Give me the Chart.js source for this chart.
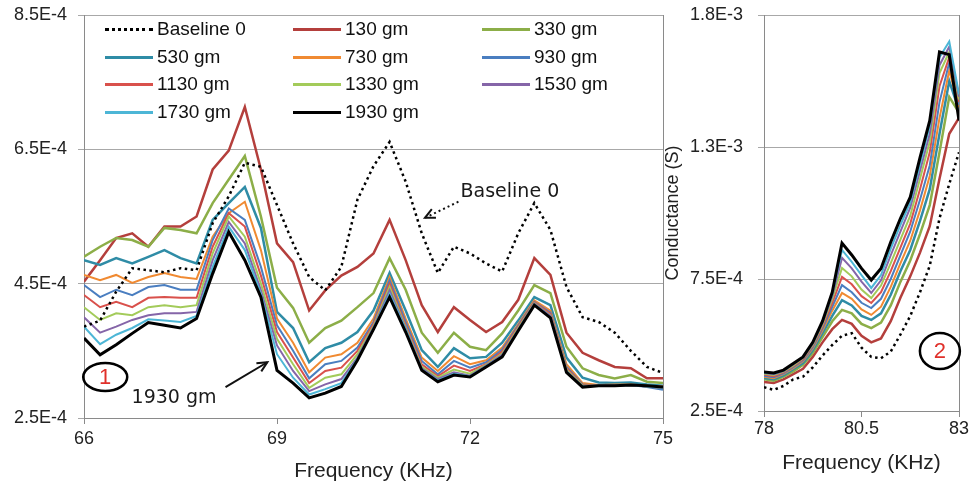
<!DOCTYPE html>
<html>
<head>
<meta charset="utf-8">
<script src="https://cdn.jsdelivr.net/npm/chart.js@4.4.1/dist/chart.umd.min.js"></script>
<style>
  html, body { margin: 0; padding: 0; background: #fff; }
  #wrap { position: relative; width: 974px; height: 485px; overflow: hidden; font-family: "Liberation Sans", Arial, sans-serif; }
  #leftBox { position: absolute; left: 0; top: 0; width: 690px; height: 485px; }
  #rightBox { position: absolute; left: 650px; top: 0; width: 324px; height: 485px; }
  .lg { position: absolute; height: 22px; font-size: 19px; line-height: 22px; color: #111; white-space: nowrap; }
  .lg i { position: absolute; left: 0; top: 10px; width: 48px; border-top: 3px solid #000; }
  .lg span { position: absolute; left: 52px; top: 0; }
</style>
</head>
<body>
<div id="wrap">
  <div id="leftBox"><canvas id="leftChart"></canvas></div>
  <div id="rightBox"><canvas id="rightChart"></canvas></div>
  <div id="legend"></div>
</div>
<script>
// Frequencies (kHz)
const freqLeft = [66, 66.25, 66.5, 66.75, 67, 67.25, 67.5, 67.75, 68, 68.25, 68.5, 68.75, 69, 69.25, 69.5, 69.75, 70, 70.25, 70.5, 70.75,
                  71, 71.25, 71.5, 71.75, 72, 72.25, 72.5, 72.75, 73, 73.25, 73.5, 73.75, 74, 74.25, 74.5, 74.75, 75];
const freqRight = [78, 78.25, 78.5, 78.75, 79, 79.25, 79.5, 79.75, 80, 80.25, 80.5, 80.75, 81, 81.25, 81.5, 81.75, 82, 82.25, 82.5, 82.75, 83];

const seriesNames = ['Baseline 0', '130 gm', '330 gm', '530 gm', '730 gm', '930 gm', '1130 gm', '1330 gm', '1530 gm', '1730 gm', '1930 gm'];

// Conductance, in units of 1E-4 S - panel 1 (66-75 kHz)
const baseLeft  = [3.86, 3.95, 4.38, 4.73, 4.70, 4.67, 4.73, 4.70, 5.40, 5.80, 6.30, 6.24, 5.67, 5.10, 4.60, 4.40, 4.75, 5.75, 6.25, 6.61, 6.02, 5.25, 4.66, 5.05, 4.95, 4.80, 4.68, 5.25, 5.70, 5.30, 4.45, 4.00, 3.93, 3.77, 3.50, 3.26, 3.17];
const g130Left  = [4.53, 4.85, 5.18, 5.25, 5.05, 5.35, 5.35, 5.50, 6.20, 6.48, 7.13, 6.20, 5.10, 4.82, 4.10, 4.40, 4.62, 4.75, 4.95, 5.45, 4.85, 4.18, 3.78, 4.15, 3.96, 3.78, 3.93, 4.26, 4.88, 4.63, 3.77, 3.47, 3.36, 3.26, 3.24, 3.09, 3.09];
const g330Left  = [4.90, 5.05, 5.18, 5.15, 5.05, 5.33, 5.30, 5.25, 5.70, 6.05, 6.40, 5.50, 4.44, 4.14, 3.62, 3.84, 3.95, 4.15, 4.36, 4.88, 4.41, 3.77, 3.47, 3.77, 3.56, 3.51, 3.76, 4.10, 4.48, 4.36, 3.56, 3.24, 3.14, 3.09, 3.14, 3.04, 3.02];
const g530Left  = [4.85, 4.78, 4.88, 4.80, 4.90, 5.00, 4.88, 4.80, 5.45, 5.70, 5.94, 5.33, 4.08, 3.84, 3.33, 3.54, 3.62, 3.78, 4.10, 4.66, 4.10, 3.51, 3.26, 3.54, 3.39, 3.41, 3.62, 3.95, 4.30, 4.18, 3.40, 3.10, 3.03, 3.02, 3.03, 3.00, 2.98];
const g730Left  = [4.63, 4.55, 4.63, 4.51, 4.60, 4.66, 4.60, 4.57, 5.20, 5.55, 5.72, 5.00, 3.98, 3.62, 3.18, 3.40, 3.45, 3.62, 3.98, 4.60, 3.98, 3.40, 3.20, 3.42, 3.30, 3.36, 3.55, 3.90, 4.25, 4.10, 3.30, 3.02, 2.99, 3.00, 3.00, 2.98, 2.97];
const g930Left  = [4.48, 4.30, 4.41, 4.33, 4.45, 4.48, 4.41, 4.41, 5.15, 5.62, 5.45, 4.75, 3.88, 3.50, 3.09, 3.30, 3.35, 3.55, 3.93, 4.55, 3.93, 3.35, 3.15, 3.35, 3.25, 3.33, 3.52, 3.88, 4.23, 4.07, 3.26, 3.00, 2.98, 2.99, 2.99, 2.96, 2.92];
const g1130Left = [4.33, 4.15, 4.23, 4.15, 4.29, 4.30, 4.29, 4.29, 5.05, 5.55, 5.35, 4.62, 3.78, 3.40, 3.02, 3.20, 3.25, 3.50, 3.90, 4.50, 3.88, 3.30, 3.12, 3.28, 3.20, 3.30, 3.49, 3.86, 4.22, 4.05, 3.24, 2.99, 2.98, 2.99, 2.99, 2.97, 2.95];
const g1330Left = [4.15, 3.96, 4.06, 4.03, 4.15, 4.18, 4.15, 4.18, 4.95, 5.50, 5.20, 4.50, 3.68, 3.30, 2.95, 3.10, 3.15, 3.45, 3.87, 4.45, 3.85, 3.26, 3.10, 3.22, 3.16, 3.29, 3.46, 3.84, 4.21, 4.03, 3.22, 2.98, 2.98, 2.98, 2.99, 2.97, 2.95];
const g1530Left = [4.00, 3.77, 3.86, 3.96, 4.03, 4.06, 4.06, 4.08, 4.85, 5.42, 5.10, 4.40, 3.58, 3.20, 2.90, 3.00, 3.08, 3.40, 3.85, 4.40, 3.83, 3.24, 3.08, 3.18, 3.13, 3.28, 3.44, 3.82, 4.20, 4.02, 3.20, 2.97, 2.98, 2.98, 2.99, 2.97, 2.95];
const g1730Left = [3.86, 3.60, 3.74, 3.84, 3.97, 3.95, 3.93, 4.02, 4.75, 5.35, 5.00, 4.35, 3.45, 3.10, 2.85, 2.93, 3.02, 3.38, 3.83, 4.35, 3.82, 3.22, 3.06, 3.16, 3.12, 3.27, 3.42, 3.81, 4.19, 4.00, 3.19, 2.97, 2.98, 2.98, 2.99, 2.97, 2.95];
const g1930Left = [3.69, 3.44, 3.59, 3.76, 3.92, 3.88, 3.84, 3.98, 4.65, 5.27, 4.85, 4.30, 3.21, 3.02, 2.80, 2.87, 2.97, 3.36, 3.82, 4.30, 3.78, 3.21, 3.04, 3.14, 3.11, 3.26, 3.41, 3.80, 4.18, 3.99, 3.18, 2.96, 2.98, 2.98, 2.99, 2.98, 2.96];

// panel 2 (78-83 kHz)
const baseRight  = [3.40, 3.30, 3.45, 3.70, 3.80, 4.15, 4.60, 5.00, 5.35, 5.45, 4.90, 4.55, 4.50, 4.75, 5.40, 6.10, 7.00, 8.00, 9.80, 11.10, 12.30];
const g130Right  = [3.60, 3.56, 3.70, 3.90, 4.10, 4.55, 5.10, 5.60, 5.95, 5.80, 5.35, 5.10, 5.25, 5.90, 6.80, 7.60, 8.50, 9.50, 11.30, 13.00, 13.60];
const g330Right  = [3.70, 3.65, 3.80, 4.00, 4.25, 4.70, 5.30, 5.90, 6.33, 6.20, 5.80, 5.64, 5.85, 6.50, 7.40, 8.20, 9.20, 10.30, 12.30, 14.40, 13.80];
const g530Right  = [3.75, 3.70, 3.85, 4.08, 4.32, 4.80, 5.45, 6.10, 6.70, 6.50, 6.10, 5.95, 6.20, 6.90, 7.80, 8.60, 9.70, 10.90, 13.00, 15.00, 13.90];
const g730Right  = [3.80, 3.74, 3.90, 4.12, 4.38, 4.87, 5.55, 6.30, 6.97, 6.75, 6.35, 6.14, 6.45, 7.20, 8.10, 8.95, 10.10, 11.40, 13.60, 15.40, 14.00];
const g930Right  = [3.84, 3.78, 3.93, 4.16, 4.42, 4.92, 5.62, 6.45, 7.27, 7.00, 6.60, 6.40, 6.75, 7.50, 8.40, 9.30, 10.50, 11.80, 14.20, 15.70, 14.10];
const g1130Right = [3.88, 3.82, 3.96, 4.20, 4.46, 4.97, 5.70, 6.60, 7.58, 7.30, 6.85, 6.59, 7.00, 7.80, 8.70, 9.60, 10.90, 12.30, 14.80, 15.90, 14.20];
const g1330Right = [3.91, 3.86, 3.99, 4.23, 4.50, 5.01, 5.77, 6.75, 7.92, 7.60, 7.10, 6.78, 7.25, 8.10, 9.00, 9.90, 11.30, 12.70, 15.30, 16.10, 14.30];
const g1530Right = [3.94, 3.89, 4.01, 4.26, 4.52, 5.05, 5.83, 6.85, 8.30, 7.90, 7.40, 6.97, 7.45, 8.40, 9.30, 10.20, 11.60, 13.00, 15.60, 16.30, 14.40];
const g1730Right = [3.96, 3.92, 4.03, 4.28, 4.54, 5.08, 5.87, 6.93, 8.60, 8.15, 7.65, 7.16, 7.65, 8.65, 9.55, 10.40, 11.85, 13.30, 15.90, 16.50, 14.50];
const g1930Right = [3.98, 3.94, 4.05, 4.30, 4.55, 5.10, 5.90, 7.00, 8.86, 8.41, 7.90, 7.46, 7.90, 8.90, 9.80, 10.60, 12.10, 13.50, 16.10, 16.00, 13.50];

// Axis ticks (y in 1E-4 S)
const leftXTicks = [66, 69, 72, 75];
const leftXLabels = ['66', '69', '72', '75'];
const leftYTicks = [2.5, 4.5, 6.5, 8.5];
const leftYLabels = ['2.5E-4', '4.5E-4', '6.5E-4', '8.5E-4'];
const rightXTicks = [78, 80.5, 83];
const rightXLabels = ['78', '80.5', '83'];
const rightYTicks = [2.5, 7.5, 12.5, 17.5];
const rightYLabels = ['2.5E-4', '7.5E-4', '1.3E-3', '1.8E-3'];

const leftSeries = [baseLeft, g130Left, g330Left, g530Left, g730Left, g930Left, g1130Left, g1330Left, g1530Left, g1730Left, g1930Left];
const rightSeries = [baseRight, g130Right, g330Right, g530Right, g730Right, g930Right, g1130Right, g1330Right, g1530Right, g1730Right, g1930Right];

// styles
const colors = ['#000000', '#B43F3C', '#8CAE48', '#2F8CA6', '#F08A32', '#4A7EC0', '#D9514C', '#A3CB5A', '#8565A8', '#4DB6D6', '#000000'];
const widths = [2.5, 2.5, 2.5, 2.5, 2, 2, 2, 2, 2, 2, 3];

function makeDatasets(freqs, series) {
    return series.map((vals, i) => ({
        label: seriesNames[i],
        data: vals.map((v, j) => ({ x: freqs[j], y: v })),
        borderColor: colors[i],
        borderWidth: widths[i],
        borderDash: i === 0 ? [2.5, 3.5] : [],
        pointRadius: 0,
        tension: 0,
        fill: false,
        order: i === 10 ? 0 : (i === 0 ? 1 : 12 - i)
    }));
}

// chart frame (right edge) and annotations
const framePlugin = {
    id: 'frame',
    beforeDatasetsDraw(chart) {
        const { ctx, chartArea: a } = chart;
        ctx.save();
        ctx.strokeStyle = '#8a8a8a';
        ctx.lineWidth = 1;
        ctx.beginPath();
        ctx.moveTo(Math.round(a.right) + 0.5, a.top);
        ctx.lineTo(Math.round(a.right) + 0.5, a.bottom);
        ctx.stroke();
        ctx.restore();
    }
};

function arrowHead(ctx, x1, y1, x2, y2) {
    const ang = Math.atan2(y2 - y1, x2 - x1);
    const len = 11, spread = 0.45;
    ctx.setLineDash([]);
    ctx.beginPath();
    ctx.moveTo(x2 - len * Math.cos(ang - spread), y2 - len * Math.sin(ang - spread));
    ctx.lineTo(x2, y2);
    ctx.lineTo(x2 - len * Math.cos(ang + spread), y2 - len * Math.sin(ang + spread));
    ctx.stroke();
}

const notesPlugin = {
    id: 'notes',
    afterDatasetsDraw(chart, args, opts) {
        const ctx = chart.ctx, xs = chart.scales.x, ys = chart.scales.y;
        ctx.save();
        (opts.items || []).forEach(it => {
            if (it.type === 'text') {
                ctx.fillStyle = '#1a1a1a';
                ctx.font = '19px "DejaVu Sans"';
                ctx.textAlign = 'center';
                ctx.textBaseline = 'middle';
                ctx.fillText(it.text, xs.getPixelForValue(it.x), ys.getPixelForValue(it.y));
            } else if (it.type === 'arrow') {
                const x1 = xs.getPixelForValue(it.x1), y1 = ys.getPixelForValue(it.y1);
                const x2 = xs.getPixelForValue(it.x2), y2 = ys.getPixelForValue(it.y2);
                ctx.strokeStyle = '#111';
                ctx.lineWidth = 2;
                ctx.setLineDash(it.dash ? [2, 3] : []);
                ctx.beginPath();
                ctx.moveTo(x1, y1);
                ctx.lineTo(x2, y2);
                ctx.stroke();
                arrowHead(ctx, x1, y1, x2, y2);
            } else if (it.type === 'circle') {
                const cx = xs.getPixelForValue(it.x), cy = ys.getPixelForValue(it.y);
                ctx.setLineDash([]);
                ctx.strokeStyle = '#000';
                ctx.lineWidth = 2.5;
                ctx.beginPath();
                ctx.ellipse(cx, cy, it.rx, it.ry, 0, 0, Math.PI * 2);
                ctx.stroke();
                ctx.fillStyle = '#E0302A';
                ctx.font = '22px "Liberation Sans"';
                ctx.textAlign = 'center';
                ctx.textBaseline = 'middle';
                ctx.fillText(it.text, cx, cy + 1);
            }
        });
        ctx.restore();
    }
};

function fixedTicks(values) {
    return scale => { scale.ticks = values.map(v => ({ value: v })); };
}

function buildOptions(cfg) {
    return {
        responsive: true,
        maintainAspectRatio: false,
        animation: false,
        layout: { padding: { top: 15, right: cfg.padRight, left: 0, bottom: 0 } },
        plugins: {
            legend: { display: false },
            tooltip: { enabled: false },
            notes: { items: cfg.notes }
        },
        scales: {
            x: {
                type: 'linear',
                min: cfg.xTicks[0],
                max: cfg.xTicks[cfg.xTicks.length - 1],
                afterBuildTicks: fixedTicks(cfg.xTicks),
                afterFit: s => { s.height = cfg.xHeight; s.paddingLeft = 0; s.paddingRight = 0; },
                grid: { drawOnChartArea: false, drawTicks: true, tickLength: 6, color: '#8a8a8a' },
                border: { display: true, color: '#8a8a8a', width: 1 },
                ticks: {
                    callback: (v, i) => cfg.xLabels[i],
                    padding: cfg.xPad,
                    maxRotation: 0,
                    color: '#222',
                    font: { family: 'Liberation Sans', size: 18 }
                },
                title: {
                    display: true,
                    text: 'Frequency (KHz)',
                    color: '#222',
                    font: { family: 'Liberation Sans', size: 21 },
                    padding: { top: 0, bottom: cfg.titlePad }
                }
            },
            y: {
                min: cfg.yTicks[0],
                max: cfg.yTicks[cfg.yTicks.length - 1],
                afterBuildTicks: fixedTicks(cfg.yTicks),
                afterFit: s => { s.width = cfg.yWidth; s.paddingTop = 0; s.paddingBottom = 0; },
                grid: { drawOnChartArea: true, drawTicks: true, tickLength: 6, color: '#a8a8a8' },
                border: { display: true, color: '#8a8a8a', width: 1 },
                ticks: {
                    callback: (v, i) => cfg.yLabels[i],
                    padding: cfg.yPad,
                    color: '#222',
                    font: { family: 'Liberation Sans', size: 18 }
                },
                title: cfg.yTitle ? {
                    display: true,
                    text: 'Conductance (S)',
                    color: '#222',
                    font: { family: 'Liberation Sans', size: 18 },
                    padding: { top: 12, bottom: 0 }
                } : { display: false }
            }
        }
    };
}

document.addEventListener('DOMContentLoaded', function() {
    new Chart(document.getElementById('leftChart').getContext('2d'), {
        type: 'line',
        data: { datasets: makeDatasets(freqLeft, leftSeries) },
        options: buildOptions({
            xTicks: leftXTicks, xLabels: leftXLabels, yTicks: leftYTicks, yLabels: leftYLabels,
            padRight: 27, xHeight: 67, yWidth: 84, xPad: 4, yPad: 11, titlePad: 1, yTitle: false,
            notes: [
                { type: 'text', x: 72.62, y: 5.86, text: 'Baseline 0' },
                { type: 'arrow', x1: 71.82, y1: 5.72, x2: 71.3, y2: 5.48, dash: true },
                { type: 'text', x: 67.4, y: 2.8, text: '1930 gm' },
                { type: 'arrow', x1: 68.2, y1: 2.96, x2: 68.85, y2: 3.33 },
                { type: 'circle', x: 66.33, y: 3.11, rx: 22, ry: 14, text: '1' }
            ]
        }),
        plugins: [framePlugin, notesPlugin]
    });

    new Chart(document.getElementById('rightChart').getContext('2d'), {
        type: 'line',
        data: { datasets: makeDatasets(freqRight, rightSeries) },
        options: buildOptions({
            xTicks: rightXTicks, xLabels: rightXLabels, yTicks: rightYTicks, yLabels: rightYLabels,
            padRight: 15, xHeight: 74, yWidth: 114, xPad: 1, yPad: 15, titlePad: 9, yTitle: true,
            notes: [
                { type: 'circle', x: 82.51, y: 4.77, rx: 20, ry: 18, text: '2' }
            ]
        }),
        plugins: [framePlugin, notesPlugin]
    });

    // legend, 3 columns x 4 rows inside panel 1
    const legend = document.getElementById('legend');
    const colX = [105, 293, 482];
    const rowY = [29, 57, 84, 112];
    seriesNames.forEach((name, i) => {
        const item = document.createElement('div');
        item.className = 'lg';
        item.style.left = colX[i % 3] + 'px';
        item.style.top = (rowY[Math.floor(i / 3)] - 11) + 'px';
        const line = document.createElement('i');
        line.style.borderTop = (i === 0 ? '3px dotted ' : '3px solid ') + colors[i];
        const label = document.createElement('span');
        label.textContent = name;
        item.appendChild(line);
        item.appendChild(label);
        legend.appendChild(item);
    });
});
</script>
</body>
</html>
